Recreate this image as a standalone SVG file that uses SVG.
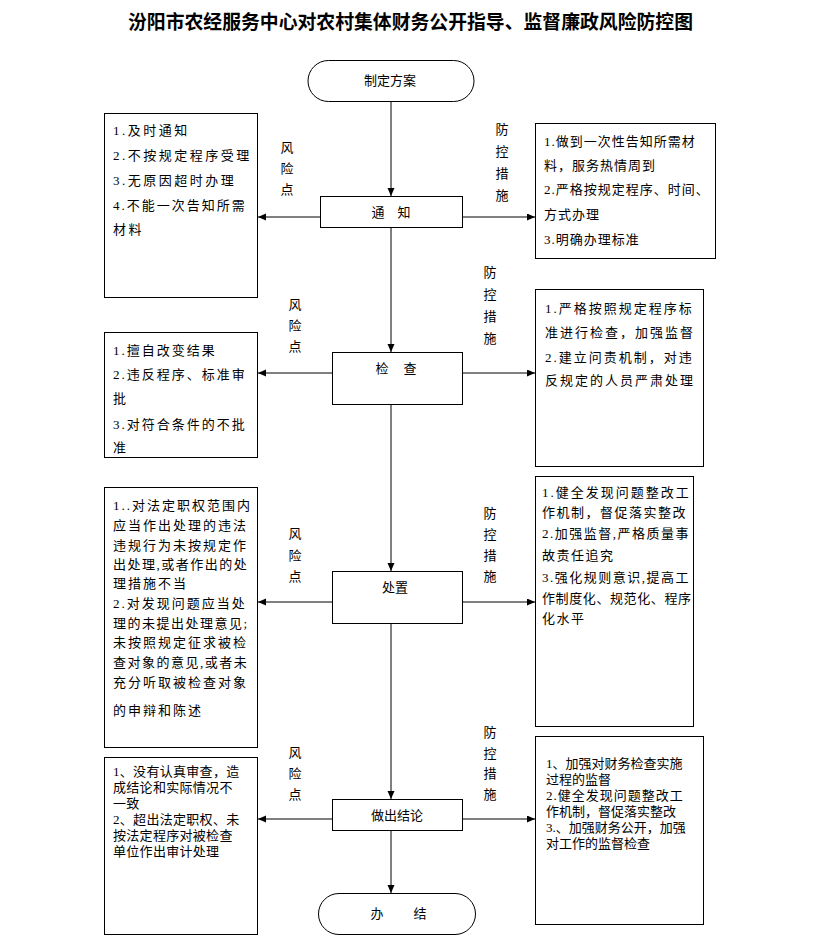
<svg xmlns="http://www.w3.org/2000/svg" width="823" height="950" viewBox="0 0 823 950">
<style>
text{font-family:"Liberation Serif","Noto Sans CJK SC",serif;fill:#000;}
.t{font-size:13px;}
.lbl{font-size:13px;text-anchor:middle;}
.box{fill:#fff;stroke:#000;stroke-width:1;}
.ln{stroke:#000;stroke-width:1;fill:none;}
.title{font-size:19.5px;font-weight:bold;text-anchor:middle;}
</style>
<defs>
<marker id="ah" markerWidth="8" markerHeight="8" refX="8" refY="3.5" orient="auto" markerUnits="userSpaceOnUse">
<path d="M0,0 L8,3.5 L0,7 z" fill="#000"/>
</marker>
</defs>
<rect width="823" height="950" fill="#fff"/>
<text class="title" x="410.5" y="29" textLength="565" lengthAdjust="spacingAndGlyphs">汾阳市农经服务中心对农村集体财务公开指导、监督廉政风险防控图</text>

<g id="connectors">
<line class="ln" x1="391" y1="101" x2="391" y2="196" marker-end="url(#ah)"/>
<line class="ln" x1="391" y1="227" x2="391" y2="352" marker-end="url(#ah)"/>
<line class="ln" x1="391" y1="404" x2="391" y2="571" marker-end="url(#ah)"/>
<line class="ln" x1="391" y1="623" x2="391" y2="799" marker-end="url(#ah)"/>
<line class="ln" x1="391" y1="830" x2="391" y2="893" marker-end="url(#ah)"/>
<line class="ln" x1="320" y1="217" x2="258" y2="217" marker-end="url(#ah)"/>
<line class="ln" x1="463" y1="217" x2="535" y2="217" marker-end="url(#ah)"/>
<line class="ln" x1="332" y1="373" x2="258" y2="373" marker-end="url(#ah)"/>
<line class="ln" x1="462" y1="373" x2="535" y2="373" marker-end="url(#ah)"/>
<line class="ln" x1="332" y1="602" x2="258" y2="602" marker-end="url(#ah)"/>
<line class="ln" x1="462" y1="602" x2="535" y2="602" marker-end="url(#ah)"/>
<line class="ln" x1="332" y1="819" x2="258" y2="819" marker-end="url(#ah)"/>
<line class="ln" x1="462" y1="819" x2="535" y2="819" marker-end="url(#ah)"/>
</g>

<g id="start">
<rect class="box" x="308" y="60.5" width="166" height="41" rx="20.5"/>
<text class="lbl" x="390" y="85">制定方案</text>
</g>

<g id="notify">
<rect class="box" x="320.5" y="196.5" width="142" height="31"/>
<text class="lbl" y="217"><tspan x="378">通</tspan><tspan x="404">知</tspan></text>
</g>
<g id="risk1">
<rect class="box" x="104.5" y="113.5" width="153" height="184"/>
<text class="t" x="113" y="135" letter-spacing="2.5">1.及时通知</text>
<text class="t" x="113" y="160" letter-spacing="2.5">2.不按规定程序受理</text>
<text class="t" x="113" y="185" letter-spacing="2.5">3.无原因超时办理</text>
<text class="t" x="113" y="210" letter-spacing="2">4.不能一次告知所需</text>
<text class="t" x="113" y="234" letter-spacing="2.5">材料</text>
</g>
<g id="risk1-label">
<text class="lbl" x="287" y="152">风</text>
<text class="lbl" x="287" y="173">险</text>
<text class="lbl" x="287" y="194">点</text>
</g>
<g id="ctrl1-label">
<text class="lbl" x="502" y="134">防</text>
<text class="lbl" x="502" y="156">控</text>
<text class="lbl" x="502" y="178">措</text>
<text class="lbl" x="502" y="200">施</text>
</g>
<g id="ctrl1">
<rect class="box" x="535.5" y="123.5" width="180" height="135"/>
<text class="t" x="544" y="146" letter-spacing="1">1.做到一次性告知所需材</text>
<text class="t" x="544" y="170" letter-spacing="1">料，服务热情周到</text>
<text class="t" x="544" y="194" letter-spacing="1">2.严格按规定程序、时间、</text>
<text class="t" x="544" y="219" letter-spacing="1">方式办理</text>
<text class="t" x="544" y="244" letter-spacing="1">3.明确办理标准</text>
</g>

<g id="check">
<rect class="box" x="332.5" y="352.5" width="130" height="52"/>
<text class="lbl" y="373"><tspan x="382">检</tspan><tspan x="410">查</tspan></text>
</g>
<g id="risk2">
<rect class="box" x="104.5" y="332.5" width="153" height="125"/>
<text class="t" x="113" y="355" letter-spacing="2">1.擅自改变结果</text>
<text class="t" x="113" y="379" letter-spacing="2">2.违反程序、标准审</text>
<text class="t" x="113" y="403" letter-spacing="2">批</text>
<text class="t" x="113" y="429" letter-spacing="2">3.对符合条件的不批</text>
<text class="t" x="113" y="452" letter-spacing="2">准</text>
</g>
<g id="risk2-label">
<text class="lbl" x="295" y="309">风</text>
<text class="lbl" x="295" y="330">险</text>
<text class="lbl" x="295" y="351">点</text>
</g>
<g id="ctrl2-label">
<text class="lbl" x="490" y="277">防</text>
<text class="lbl" x="490" y="299">控</text>
<text class="lbl" x="490" y="321">措</text>
<text class="lbl" x="490" y="343">施</text>
</g>
<g id="ctrl2">
<rect class="box" x="535.5" y="289.5" width="168" height="177"/>
<text class="t" x="545" y="313" letter-spacing="2">1.严格按照规定程序标</text>
<text class="t" x="545" y="337" letter-spacing="2">准进行检查，加强监督</text>
<text class="t" x="545" y="362" letter-spacing="2">2.建立问责机制，对违</text>
<text class="t" x="545" y="385" letter-spacing="2">反规定的人员严肃处理</text>
</g>

<g id="handle">
<rect class="box" x="332.5" y="571.5" width="130" height="52"/>
<text class="lbl" x="395" y="592">处置</text>
</g>
<g id="risk3">
<rect class="box" x="104.5" y="487.5" width="153" height="260"/>
<text class="t" x="113" y="510" letter-spacing="2">1..对法定职权范围内</text>
<text class="t" x="113" y="530" letter-spacing="2">应当作出处理的违法</text>
<text class="t" x="113" y="550" letter-spacing="2">违规行为未按规定作</text>
<text class="t" x="113" y="569" letter-spacing="1.5">出处理,或者作出的处</text>
<text class="t" x="113" y="588" letter-spacing="2">理措施不当</text>
<text class="t" x="113" y="608" letter-spacing="2">2.对发现问题应当处</text>
<text class="t" x="113" y="628" letter-spacing="1.5">理的未提出处理意见;</text>
<text class="t" x="113" y="647" letter-spacing="2">未按照规定征求被检</text>
<text class="t" x="113" y="667" letter-spacing="1.5">查对象的意见,或者未</text>
<text class="t" x="113" y="687" letter-spacing="2">充分听取被检查对象</text>
<text class="t" x="113" y="715" letter-spacing="2">的申辩和陈述</text>
</g>
<g id="risk3-label">
<text class="lbl" x="295" y="538">风</text>
<text class="lbl" x="295" y="560">险</text>
<text class="lbl" x="295" y="581">点</text>
</g>
<g id="ctrl3-label">
<text class="lbl" x="490" y="518">防</text>
<text class="lbl" x="490" y="539">控</text>
<text class="lbl" x="490" y="560">措</text>
<text class="lbl" x="490" y="581">施</text>
</g>
<g id="ctrl3">
<rect class="box" x="535.5" y="476.5" width="158" height="250"/>
<text class="t" x="542" y="497" letter-spacing="2">1.健全发现问题整改工</text>
<text class="t" x="542" y="517" letter-spacing="1.5">作机制，督促落实整改</text>
<text class="t" x="542" y="538" letter-spacing="1.5">2.加强监督,严格质量事</text>
<text class="t" x="542" y="560" letter-spacing="1.5">故责任追究</text>
<text class="t" x="542" y="582" letter-spacing="1.5">3.强化规则意识,提高工</text>
<text class="t" x="542" y="603" letter-spacing="0.6">作制度化、规范化、程序</text>
<text class="t" x="542" y="623" letter-spacing="1.5">化水平</text>
</g>

<g id="conclude">
<rect class="box" x="332.5" y="799.5" width="130" height="31"/>
<text class="lbl" x="397" y="820">做出结论</text>
</g>
<g id="risk4">
<rect class="box" x="104.5" y="757.5" width="153" height="177"/>
<text class="t" x="113" y="776" font-size="14" letter-spacing="0.3">1、没有认真审查，造</text>
<text class="t" x="113" y="792" font-size="14" letter-spacing="0.3">成结论和实际情况不</text>
<text class="t" x="113" y="808" font-size="14" letter-spacing="0.3">一致</text>
<text class="t" x="113" y="824" font-size="14" letter-spacing="0.3">2、超出法定职权、未</text>
<text class="t" x="113" y="840" font-size="14" letter-spacing="0.3">按法定程序对被检查</text>
<text class="t" x="113" y="856" font-size="14" letter-spacing="0.3">单位作出审计处理</text>
</g>
<g id="risk4-label">
<text class="lbl" x="295" y="757">风</text>
<text class="lbl" x="295" y="778">险</text>
<text class="lbl" x="295" y="799">点</text>
</g>
<g id="ctrl4-label">
<text class="lbl" x="490" y="737">防</text>
<text class="lbl" x="490" y="758">控</text>
<text class="lbl" x="490" y="778">措</text>
<text class="lbl" x="490" y="799">施</text>
</g>
<g id="ctrl4">
<rect class="box" x="535.5" y="736.5" width="168" height="188"/>
<text class="t" x="546" y="768" font-size="13.5">1、加强对财务检查实施</text>
<text class="t" x="546" y="784" font-size="13.5">过程的监督</text>
<text class="t" x="546" y="800" font-size="13.5" letter-spacing="1">2.健全发现问题整改工</text>
<text class="t" x="546" y="816" font-size="13.5">作机制，督促落实整改</text>
<text class="t" x="546" y="832" font-size="13.5">3.、加强财务公开，加强</text>
<text class="t" x="546" y="848" font-size="13.5">对工作的监督检查</text>
</g>

<g id="end">
<rect class="box" x="318.5" y="893.5" width="157" height="41" rx="20.5"/>
<text class="lbl" y="918"><tspan x="377">办</tspan><tspan x="420">结</tspan></text>
</g>
</svg>
